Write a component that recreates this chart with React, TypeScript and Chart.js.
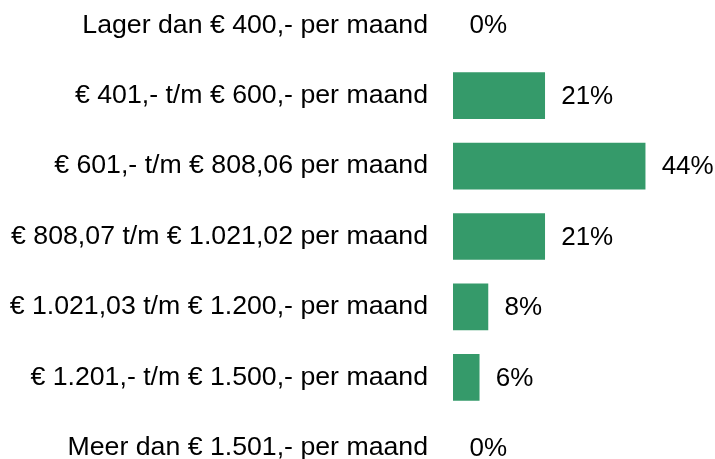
import React, { useEffect, useRef } from "react";
import { Chart, registerables } from "chart.js";

Chart.register(...registerables);

const categories = [
  "Lager dan € 400,- per maand",
  "€ 401,- t/m € 600,- per maand",
  "€ 601,- t/m € 808,06 per maand",
  "€ 808,07 t/m € 1.021,02 per maand",
  "€ 1.021,03 t/m € 1.200,- per maand",
  "€ 1.201,- t/m € 1.500,- per maand",
  "Meer dan € 1.501,- per maand",
];
const values = [0, 21, 44, 21, 8, 6, 0];
const valueLabels = ["0%", "21%", "44%", "21%", "8%", "6%", "0%"];

const FONT = "'Liberation Sans', Arial, sans-serif";
const TICK_SIZE = 26.7;
const VALUE_SIZE = 26;

export default function App() {
  const ref = useRef<HTMLCanvasElement>(null);
  useEffect(() => {
    if (!ref.current) return;
    const labelPlugin = {
      id: "valueLabels",
      afterDatasetsDraw(chart: any) {
        const ctx = chart.ctx;
        const meta = chart.getDatasetMeta(0);
        ctx.save();
        ctx.font = `${VALUE_SIZE}px ${FONT}`;
        ctx.fillStyle = "#000";
        ctx.textAlign = "left";
        ctx.textBaseline = "middle";
        meta.data.forEach((bar: any, i: number) => {
          ctx.fillText(valueLabels[i], bar.x + 16.5, bar.y + 1);
        });
        ctx.restore();
      },
    };
    const chart = new Chart(ref.current, {
      type: "bar",
      data: {
        labels: categories,
        datasets: [
          {
            data: values,
            backgroundColor: (c: any) =>
              values[c.dataIndex] === 0 ? "rgba(0,0,0,0)" : "#359a6a",
            borderWidth: 0,
            barThickness: 46,
          },
        ],
      },
      options: {
        indexAxis: "y",
        animation: false,
        responsive: false,
        maintainAspectRatio: false,
        layout: { padding: 0 },
        plugins: { legend: { display: false }, tooltip: { enabled: false } },
        scales: {
          x: { display: false, min: 0, max: 60 },
          y: {
            grid: { display: false, drawTicks: false },
            border: { display: false },
            ticks: {
              color: "#000",
              padding: 25,
              font: { family: FONT, size: TICK_SIZE },
            },
            afterFit(scale: any) {
              scale.width = 453;
              scale.paddingTop = 0;
              scale.paddingBottom = 0;
            },
          },
        },
      },
      plugins: [labelPlugin],
    });
    return () => chart.destroy();
  }, []);
  return (
    <div style={{ position: "absolute", left: 0, top: -10, width: 715, height: 493 }}>
      <canvas ref={ref} width={715} height={493} style={{ display: "block" }} />
    </div>
  );
}
